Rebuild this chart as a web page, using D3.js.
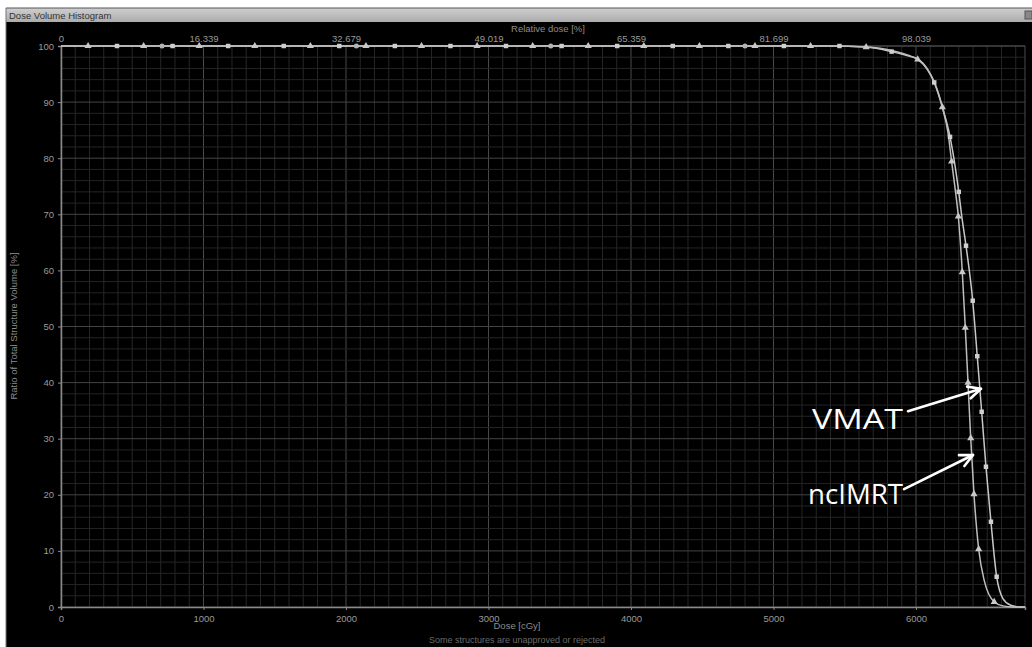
<!DOCTYPE html>
<html>
<head>
<meta charset="utf-8">
<script src="https://cdn.jsdelivr.net/npm/d3@7"></script>
<style>
  html, body { margin: 0; padding: 0; background: #ffffff; }
  svg { display: block; }
</style>
</head>
<body>
<svg id="chart" width="1032" height="647"></svg>
<script>
// ---------------- data ----------------
const doseTicks = [0, 1000, 2000, 3000, 4000, 5000, 6000];
const volumeTicks = [0, 10, 20, 30, 40, 50, 60, 70, 80, 90, 100];
const relDoseTickDoses = [0, 1000, 2000, 3000, 4000, 5000, 6000];
const relDoseTickLabels = ["0", "16.339", "32.679", "49.019", "65.359", "81.699", "98.039"];

const ncimrtDose = [0, 5400, 5650, 5829, 5950, 6012, 6080, 6128, 6185, 6225, 6250, 6275, 6297, 6325, 6346, 6365, 6384, 6407, 6440, 6480, 6549, 6610, 6680, 6765];
const ncimrtVol  = [100, 100, 99.8, 99.2, 98.3, 97.6, 95.8, 93.6, 89.1, 84.5, 79.4, 74.5, 69.6, 59.7, 49.8, 40.0, 30.1, 20.1, 10.3, 4.6, 0.9, 0.2, 0, 0];

const vmatDose = [0, 5400, 5650, 5829, 5950, 6012, 6080, 6128, 6185, 6239, 6275, 6300, 6322, 6351, 6398, 6430, 6461, 6491, 6526, 6566, 6610, 6665, 6725, 6765];
const vmatVol  = [100, 100, 99.8, 99.0, 98.2, 97.7, 95.9, 93.5, 89.1, 83.8, 78.5, 74.0, 69.5, 64.4, 54.6, 44.7, 34.8, 25.0, 15.2, 5.4, 1.5, 0.3, 0, 0];

// marker positions
const ncimrtMarkerDose = [190, 580, 970, 1360, 1750, 2140, 2530, 2920, 3310, 3700, 4090, 4480, 4870, 5260, 5650, 6012, 6185, 6250, 6297, 6325, 6346, 6365, 6384, 6407, 6440, 6549];
const ncimrtMarkerVol  = [100, 100, 100, 100, 100, 100, 100, 100, 100, 100, 100, 100, 100, 100, 99.8, 97.6, 89.1, 79.4, 69.6, 59.7, 49.8, 40.0, 30.1, 20.1, 10.3, 0.9];
const vmatMarkerDose = [393, 783, 1173, 1563, 1953, 2343, 2733, 3123, 3513, 3903, 4293, 4683, 5073, 5463, 5829, 6128, 6239, 6300, 6351, 6398, 6430, 6461, 6491, 6526, 6566];
const vmatMarkerVol  = [100, 100, 100, 100, 100, 100, 100, 100, 100, 100, 100, 100, 100, 100, 99.0, 93.5, 83.8, 74.0, 64.4, 54.6, 44.7, 34.8, 25.0, 15.2, 5.4];
const otherMarkerDose = [709, 2073, 3437, 4800];
const otherMarkerVol  = [100, 100, 100, 100];

const annotationLabels = ["VMAT", "ncIMRT"];
const annotationFrom = [[5944, 34.9], [5916, 21.0]];
const annotationTo   = [[6456, 38.9], [6400, 27.1]];

// ---------------- layout ----------------
const svg = d3.select("#chart");
const W = 1032, H = 647;
const plot = { left: 61, right: 1025, top: 46, bottom: 607 };

const x = d3.scaleLinear().domain([0, 6765]).range([plot.left, plot.right]);
const y = d3.scaleLinear().domain([0, 100]).range([plot.bottom, plot.top]);

// background / window frame
svg.append("rect").attr("x", 0).attr("y", 0).attr("width", W).attr("height", H).attr("fill", "#ffffff");
svg.append("rect").attr("x", 6).attr("y", 22).attr("width", W - 6).attr("height", H - 22).attr("fill", "#000000");
const grad = svg.append("defs").append("linearGradient").attr("id", "tb").attr("x1", 0).attr("y1", 0).attr("x2", 0).attr("y2", 1);
grad.append("stop").attr("offset", "0%").attr("stop-color", "#cfcfcf");
grad.append("stop").attr("offset", "100%").attr("stop-color", "#acacac");
svg.append("rect").attr("x", 6).attr("y", 8).attr("width", W - 6).attr("height", 14).attr("fill", "url(#tb)");
svg.append("line").attr("x1", 6).attr("x2", W).attr("y1", 8).attr("y2", 8).attr("stroke", "#555").attr("stroke-width", 1);
svg.append("line").attr("x1", 6).attr("x2", 6).attr("y1", 8).attr("y2", H).attr("stroke", "#777").attr("stroke-width", 1);
svg.append("text").attr("x", 9).attr("y", 18.5).text("Dose Volume Histogram")
  .attr("font-family", "Liberation Sans, Arial, sans-serif").attr("font-size", 9.5).attr("fill", "#333");
svg.append("rect").attr("x", 1025).attr("y", 11).attr("width", 7).attr("height", 8).attr("fill", "#888").attr("stroke", "#555");

// ---------------- grid ----------------
const g = svg.append("g");
const minorX = d3.range(0, 6765, 100);
const minorY = d3.range(0, 101, 2);
g.selectAll("line.mx").data(minorX).join("line")
  .attr("x1", d => x(d)).attr("x2", d => x(d)).attr("y1", plot.top).attr("y2", plot.bottom)
  .attr("stroke", d => d % 1000 === 0 ? "#4a4a4a" : "#262626").attr("stroke-width", 1);
g.selectAll("line.my").data(minorY).join("line")
  .attr("x1", plot.left).attr("x2", plot.right).attr("y1", d => y(d)).attr("y2", d => y(d))
  .attr("stroke", d => d % 10 === 0 ? "#444" : "#242424").attr("stroke-width", 1);
g.append("line").attr("x1", plot.right).attr("x2", plot.right).attr("y1", plot.top).attr("y2", plot.bottom).attr("stroke", "#4a4a4a");
g.append("line").attr("x1", plot.left).attr("x2", plot.right).attr("y1", plot.top).attr("y2", plot.top).attr("stroke", "#4a4a4a");

// ---------------- axes ----------------
const tickFont = "Liberation Sans, Arial, sans-serif";
const axB = svg.append("g").attr("transform", `translate(0,${plot.bottom})`)
  .call(d3.axisBottom(x).tickValues(doseTicks).tickSize(3).tickFormat(d3.format("d")));
const axL = svg.append("g").attr("transform", `translate(${plot.left},0)`)
  .call(d3.axisLeft(y).tickValues(volumeTicks).tickSize(3).tickFormat(d3.format("d")));
const axT = svg.append("g").attr("transform", `translate(0,${plot.top})`)
  .call(d3.axisTop(x).tickValues(relDoseTickDoses).tickSize(0).tickFormat((d, i) => relDoseTickLabels[i]));
[axB, axL, axT].forEach(a => {
  a.selectAll("path.domain").attr("stroke", "#8a8a8a").attr("stroke-width", 1.5);
  a.selectAll(".tick line").attr("stroke", "#8a8a8a");
  a.selectAll("text").attr("fill", "#9a9a9a").attr("font-family", tickFont).attr("font-size", 9.5);
});
axT.select("path.domain").remove();
axT.selectAll("text").attr("dy", "-0.1em");
axB.selectAll("text").attr("dy", "0.9em");
axL.selectAll("text").attr("dx", "-1px");

// axis titles
svg.append("text").attr("x", 548).attr("y", 32).attr("text-anchor", "middle")
  .text("Relative dose [%]").attr("fill", "#8c8c8c").attr("font-family", tickFont).attr("font-size", 9.5);
svg.append("text").attr("x", 517).attr("y", 629).attr("text-anchor", "middle")
  .text("Dose [cGy]").attr("fill", "#8c8c8c").attr("font-family", tickFont).attr("font-size", 9.5);
svg.append("text").attr("transform", "translate(17,326) rotate(-90)").attr("text-anchor", "middle")
  .text("Ratio of Total Structure Volume [%]").attr("fill", "#8c8c8c").attr("font-family", tickFont).attr("font-size", 9.5);
svg.append("text").attr("x", 517).attr("y", 643).attr("text-anchor", "middle")
  .text("Some structures are unapproved or rejected").attr("fill", "#6a6a6a").attr("font-family", tickFont).attr("font-size", 9);

// ---------------- curves ----------------
const line = d3.line().x(d => x(d[0])).y(d => y(d[1])).curve(d3.curveMonotoneX);
const ncimrt = ncimrtDose.map((d, i) => [d, ncimrtVol[i]]);
const vmat = vmatDose.map((d, i) => [d, vmatVol[i]]);
svg.append("path").datum(vmat).attr("d", line).attr("fill", "none").attr("stroke", "#c8c8c8").attr("stroke-width", 1.5);
svg.append("path").datum(ncimrt).attr("d", line).attr("fill", "none").attr("stroke", "#bdbdbd").attr("stroke-width", 1.5);

// markers
const sq = d3.symbol().type(d3.symbolSquare).size(20);
const tri = d3.symbol().type(d3.symbolTriangle).size(22);
const circ = d3.symbol().type(d3.symbolCircle).size(20);
svg.selectAll("path.vm").data(vmatMarkerDose.map((d, i) => [d, vmatMarkerVol[i]])).join("path")
  .attr("transform", d => `translate(${x(d[0])},${y(d[1])})`).attr("d", sq).attr("fill", "#cfcfcf");
svg.selectAll("path.nm").data(ncimrtMarkerDose.map((d, i) => [d, ncimrtMarkerVol[i]])).join("path")
  .attr("transform", d => `translate(${x(d[0])},${y(d[1])})`).attr("d", tri).attr("fill", "#c8c8c8");
svg.selectAll("path.om").data(otherMarkerDose.map((d, i) => [d, otherMarkerVol[i]])).join("path")
  .attr("transform", d => `translate(${x(d[0])},${y(d[1])})`).attr("d", circ).attr("fill", "#b4b4b4");

// ---------------- annotations ----------------
const ann = svg.append("g");
const labelPos = [[812, 418, 91], [808, 493, 95]];
annotationLabels.forEach((lab, i) => {
  ann.append("text").attr("x", labelPos[i][0]).attr("y", labelPos[i][1]).attr("dominant-baseline", "central")
    .attr("textLength", labelPos[i][2]).attr("lengthAdjust", "spacingAndGlyphs")
    .text(lab).attr("fill", "#ffffff").attr("font-family", "Open Sans, Noto Sans, sans-serif").attr("font-size", 27);
  const x1 = x(annotationFrom[i][0]), y1 = y(annotationFrom[i][1]);
  const x2 = x(annotationTo[i][0]), y2 = y(annotationTo[i][1]);
  ann.append("line").attr("x1", x1).attr("y1", y1).attr("x2", x2).attr("y2", y2)
    .attr("stroke", "#ffffff").attr("stroke-width", 2.6).attr("stroke-linecap", "round");
  const ang = Math.atan2(y2 - y1, x2 - x1), L = 14, spread = 0.45;
  const p1 = [x2 - L * Math.cos(ang - spread), y2 - L * Math.sin(ang - spread)];
  const p2 = [x2 - L * Math.cos(ang + spread), y2 - L * Math.sin(ang + spread)];
  ann.append("path").attr("d", `M${p1[0]},${p1[1]}L${x2},${y2}L${p2[0]},${p2[1]}`)
    .attr("fill", "none").attr("stroke", "#ffffff").attr("stroke-width", 2.6).attr("stroke-linecap", "round").attr("stroke-linejoin", "round");
});
</script>
</body>
</html>
